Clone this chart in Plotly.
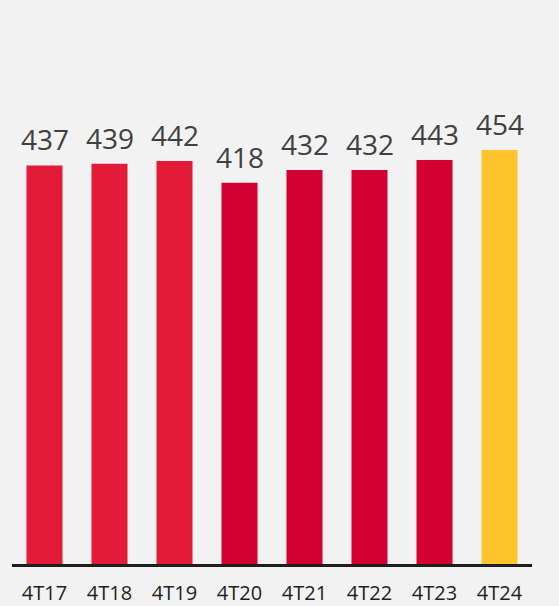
import plotly.graph_objects as go

categories = ["4T17", "4T18", "4T19", "4T20", "4T21", "4T22", "4T23", "4T24"]
values = [437, 439, 442, 418, 432, 432, 443, 454]
colors = ["#E41A39", "#E41A39", "#E41A39", "#D50032", "#D50032", "#D50032", "#D50032", "#FFC52C"]

fig = go.Figure(go.Bar(
    x=categories,
    y=values,
    marker=dict(color=colors, line=dict(width=0)),
    hoverinfo="skip",
))

for c, v in zip(categories, values):
    fig.add_annotation(
        x=c, y=v, text=str(v), showarrow=False,
        yanchor="bottom", yshift=5,
        font=dict(family="Open Sans", size=28, color="#404040"),
    )

fig.update_layout(
    width=559, height=606,
    margin=dict(l=12, r=27, t=108, b=42),
    paper_bgcolor="#F2F2F2",
    plot_bgcolor="#F2F2F2",
    bargap=0.446,
    showlegend=False,
    xaxis=dict(
        showline=True, linecolor="#1E1E1E", linewidth=2.6,
        showgrid=False, zeroline=False, automargin=False,
        ticks="", ticklabelstandoff=9,
        tickfont=dict(family="Open Sans", size=20, color="#1E1E1E"),
    ),
    yaxis=dict(range=[0, 500], visible=False, showgrid=False, zeroline=False, automargin=False),
)

fig.write_html(
    "out.html",
    config={"displayModeBar": False},
    post_script="document.body.style.margin='0';document.body.style.padding='0';document.body.style.overflow='hidden';",
)
